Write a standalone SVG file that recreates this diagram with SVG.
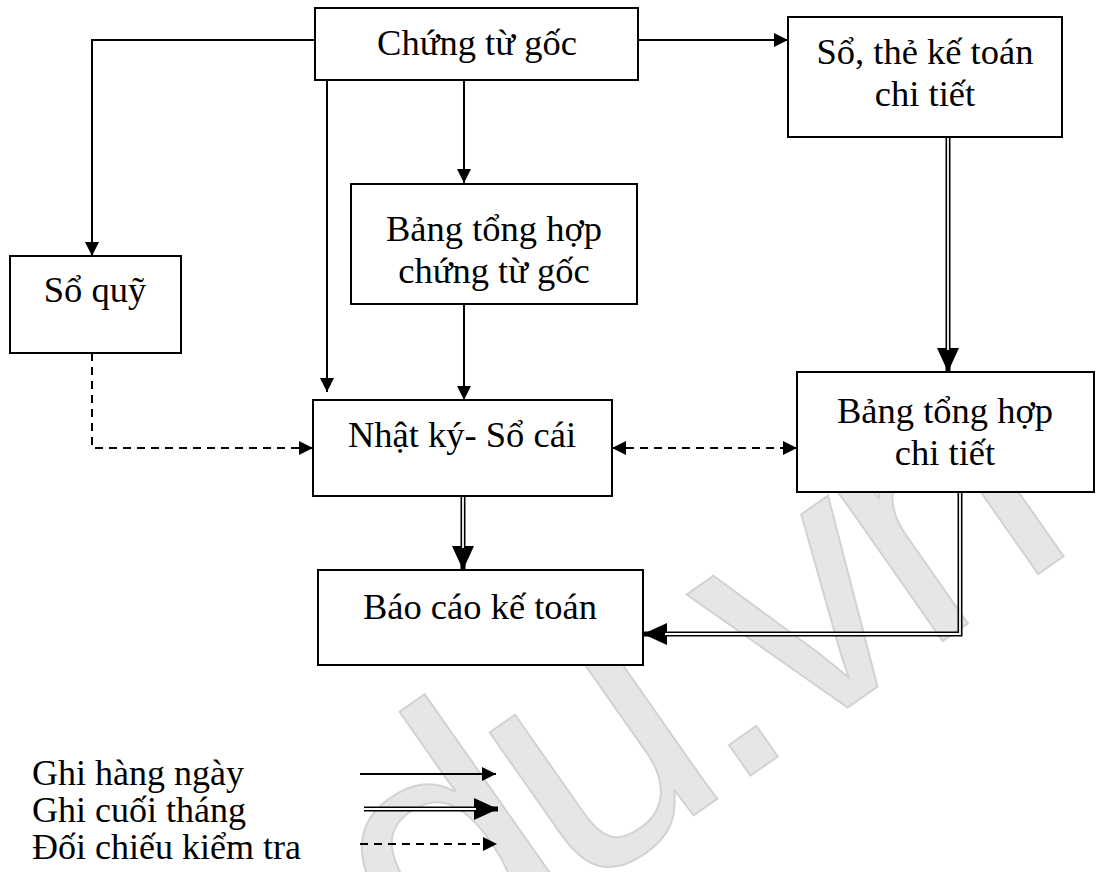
<svg xmlns="http://www.w3.org/2000/svg" width="1117" height="872" viewBox="0 0 1117 872">
<style>
.t{font-family:"Liberation Serif","Times New Roman",serif;font-size:36.5px;fill:#000;text-anchor:middle}
.l{font-family:"Liberation Serif","Times New Roman",serif;font-size:36px;fill:#000}
.box{fill:#fff;stroke:#000;stroke-width:2}
.s{fill:none;stroke:#000;stroke-width:2}
.d{fill:none;stroke:#000;stroke-width:2;stroke-dasharray:8 6}
.dblo{fill:none;stroke:#000;stroke-width:5}
.dbli{fill:none;stroke:#fff;stroke-width:1.8}
.wm{font-family:"Liberation Sans",Arial,sans-serif;font-size:350px;fill:#e6e6e6;stroke:#d2d2d2;stroke-width:2}
</style>
<defs>
<marker id="a" markerUnits="userSpaceOnUse" markerWidth="14" markerHeight="14" refX="14" refY="7" orient="auto-start-reverse"><path d="M0,0 L14,7 L0,14 z" fill="#000"/></marker>
<marker id="b" markerUnits="userSpaceOnUse" markerWidth="24" markerHeight="22" refX="24" refY="11" orient="auto"><path d="M0,0 L24,11 L0,22 z" fill="#000"/></marker>
</defs>
<rect width="1117" height="872" fill="#fff"/>
<g id="watermark"><text class="wm" transform="translate(430,1000) rotate(-35)" letter-spacing="-15">du.vn</text></g>
<g id="connectors">
<path class="s" d="M315,40 H92 V256" marker-end="url(#a)"/>
<path class="s" d="M327,80 V392" marker-end="url(#a)"/>
<path class="s" d="M464,80 V183" marker-end="url(#a)"/>
<path class="s" d="M464,304 V400" marker-end="url(#a)"/>
<path class="s" d="M638,40 H788" marker-end="url(#a)"/>
<path class="d" d="M92,353 V448 H313" marker-end="url(#a)"/>
<path class="d" d="M612,448 H797" marker-start="url(#a)" marker-end="url(#a)"/>
<path class="dblo" d="M948,137 V372" marker-end="url(#b)"/>
<path class="dbli" d="M948,137 V350"/>
<path class="dblo" d="M463,496 V570" marker-end="url(#b)"/>
<path class="dbli" d="M463,496 V548"/>
<path class="dblo" d="M960,492 V634 H643" marker-end="url(#b)"/>
<path class="dbli" d="M960,492 V634 H665"/>
</g>
<g id="n-chungtugoc"><rect class="box" x="315" y="8" width="323" height="72"/><text class="t" x="477" y="55">Chứng từ gốc</text></g>
<g id="n-sothe"><rect class="box" x="788" y="17" width="274" height="120"/><text class="t" x="925" y="64">Sổ, thẻ kế toán</text><text class="t" x="925" y="106">chi tiết</text></g>
<g id="n-bangthctg"><rect class="box" x="351" y="184" width="286" height="120"/><text class="t" x="494" y="241">Bảng tổng hợp</text><text class="t" x="494" y="283">chứng từ gốc</text></g>
<g id="n-soquy"><rect class="box" x="10" y="256" width="171" height="97"/><text class="t" x="95" y="302">Sổ quỹ</text></g>
<g id="n-nhatky"><rect class="box" x="313" y="400" width="299" height="96"/><text class="t" x="462" y="447">Nhật ký- Sổ cái</text></g>
<g id="n-bangthct"><rect class="box" x="797" y="372" width="297" height="120"/><text class="t" x="945" y="423">Bảng tổng hợp</text><text class="t" x="945" y="465">chi tiết</text></g>
<g id="n-baocao"><rect class="box" x="318" y="570" width="325" height="95"/><text class="t" x="480" y="619">Báo cáo kế toán</text></g>
<g id="legend">
<text class="l" x="32" y="785">Ghi hàng ngày</text>
<text class="l" x="32" y="822">Ghi cuối tháng</text>
<text class="l" x="32" y="859">Đối chiếu kiểm tra</text>
<path class="s" d="M360,774 H496" marker-end="url(#a)"/>
<path class="dblo" d="M364,809 H498" marker-end="url(#b)"/>
<path class="dbli" d="M364,809 H476"/>
<path class="d" d="M360,844 H497" marker-end="url(#a)"/>
</g>
</svg>
